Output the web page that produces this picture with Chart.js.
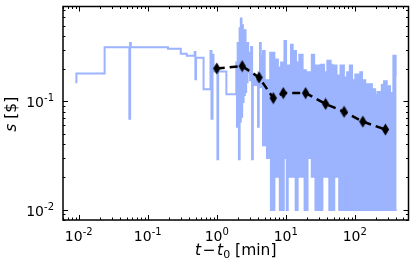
<!DOCTYPE html>
<html>
<head>
<meta charset="utf-8">
<script src="https://cdn.jsdelivr.net/npm/chart.js@4.4.1/dist/chart.umd.min.js"></script>
<style>
  html, body { margin: 0; padding: 0; background: #fff; }
</style>
</head>
<body>
<canvas id="chart" width="415" height="277"></canvas>
<script>
// raw spread, sparse part (minutes, $), drawn as steps
const traceT = [0.00893, 0.00924, 0.0237, 0.0541, 0.0555, 0.0568, 0.196, 0.301, 0.367, 0.479,
  0.490, 0.501, 0.644, 0.812, 0.839, 0.868, 0.897, 1.023, 1.047, 1.378,
  1.918, 1.962, 2.008, 2.048, 2.096, 2.145, 2.188, 2.232, 2.284, 2.337,
  2.392, 2.448, 2.497, 2.556, 2.615, 2.668, 2.731, 2.795, 2.851, 2.946,
  3.045, 3.147, 3.253, 3.329, 3.474, 3.712, 3.966, 4.058, 4.236, 4.335, 4.436, 4.526]
const traceS = [0.150, 0.181, 0.315, 0.0690, 0.346, 0.315, 0.306, 0.275, 0.264, 0.286,
  0.160, 0.253, 0.129, 0.292, 0.069, 0.269, 0.188, 0.0292, 0.188, 0.116,
  0.228, 0.0583, 0.346, 0.080, 0.0292, 0.473, 0.0649, 0.583, 0.072, 0.505,
  0.0986, 0.385, 0.114, 0.454, 0.122, 0.312, 0.150, 0.346, 0.185, 0.281,
  0.156, 0.318, 0.0292, 0.177, 0.141, 0.156, 0.0583, 0.185, 0.346, 0.135, 0.264, 0.264]

// raw spread, dense part: upper and lower edge of the band
const bandT = [4.526, 4.677, 4.949, 5.339, 5.703, 5.953, 6.093, 6.839, 7.187, 7.678,
  8.202, 8.562, 9.361, 9.579, 10.10, 10.33, 10.68, 11.91, 12.60, 13.92,
  14.05, 14.87, 15.73, 17.54, 18.74, 19.56, 20.69, 23.84, 25.81, 26.94,
  32.10, 33.95, 35.92, 40.05, 42.80, 44.67, 47.25, 50.47, 54.45, 59.54,
  62.15, 69.55, 70.24, 72.59, 77.53, 84.79, 91.48, 102.0, 114.1, 120.3,
  127.3, 141.9, 177.1, 197.5, 213.8, 246.5, 265.9, 290.7, 324.2, 362.7, 391.4, 404.5]
const bandHi = [0.264, 0.292, 0.156, 0.156, 0.156, 0.281, 0.281, 0.243, 0.243, 0.205,
  0.205, 0.228, 0.228, 0.360, 0.214, 0.214, 0.214, 0.332, 0.292, 0.292,
  0.228, 0.228, 0.269, 0.193, 0.193, 0.185, 0.185, 0.269, 0.214, 0.214,
  0.218, 0.218, 0.185, 0.237, 0.237, 0.218, 0.214, 0.214, 0.173, 0.173,
  0.214, 0.166, 0.166, 0.166, 0.185, 0.214, 0.156, 0.177, 0.150, 0.185,
  0.156, 0.144, 0.129, 0.114, 0.122, 0.141, 0.153, 0.138, 0.119, 0.264, 0.177, 0.177]
const bandLo = [0.0393, 0.0393, 0.0393, 0.0299, 0.0393, 0.0393, 0.0099, 0.0201, 0.0201, 0.0299,
  0.0099, 0.0099, 0.0299, 0.0299, 0.0299, 0.0099, 0.0201, 0.0299, 0.0201, 0.0099,
  0.0099, 0.0201, 0.0201, 0.0201, 0.0099, 0.0099, 0.0299, 0.0201, 0.0201, 0.0099,
  0.0099, 0.0201, 0.0201, 0.0201, 0.0099, 0.0099, 0.0099, 0.0201, 0.0201, 0.0099,
  0.0099, 0.0099, 0.0201, 0.0099, 0.0099, 0.0099, 0.0099, 0.0099, 0.0099, 0.0099,
  0.0099, 0.0099, 0.0099, 0.0099, 0.0099, 0.0099, 0.0099, 0.0099, 0.0099, 0.0099, 0.0099, 0.0099]

// binned means
const binT = [1.0, 2.34, 4.1, 6.6, 9.2, 19.4, 37.8, 70, 131, 278]
const binS = [0.201, 0.211, 0.166, 0.107, 0.119, 0.119, 0.0945, 0.080, 0.0649, 0.0548]

const xDecades = [-2, -1, 0, 1, 2]
const yDecades = [-2, -1]

const blue = 'rgb(156,179,253)'
const pts = (xs, ys) => xs.map((v, i) => ({ x: v, y: ys[i] }))

// thin diamond marker
const diamond = document.createElement('canvas')
diamond.width = 9
diamond.height = 13
{
  const g = diamond.getContext('2d')
  g.fillStyle = '#000'
  g.beginPath()
  g.moveTo(4.5, 0.5); g.lineTo(8.2, 6.5); g.lineTo(4.5, 12.5); g.lineTo(0.8, 6.5)
  g.closePath()
  g.fill()
}

const frame = {
  id: 'frame',
  afterDraw(chart) {
    const { ctx, chartArea: a, scales: { x, y } } = chart
    ctx.save()
    ctx.strokeStyle = '#000'
    ctx.lineWidth = 1
    for (let k = -3; k <= 3; k++) {
      for (let m = 1; m <= 9; m++) {
        const v = m * Math.pow(10, k)
        const len = m === 1 ? 5 : 2.5
        if (v >= x.min && v <= x.max) {
          const p = Math.round(x.getPixelForValue(v)) + 0.5
          ctx.beginPath()
          ctx.moveTo(p, a.bottom); ctx.lineTo(p, a.bottom - len)
          ctx.moveTo(p, a.top); ctx.lineTo(p, a.top + len)
          ctx.stroke()
        }
        if (v >= y.min && v <= y.max) {
          const p = Math.round(y.getPixelForValue(v)) + 0.5
          ctx.beginPath()
          ctx.moveTo(a.left, p); ctx.lineTo(a.left + len, p)
          ctx.moveTo(a.right, p); ctx.lineTo(a.right - len, p)
          ctx.stroke()
        }
      }
    }
    ctx.lineWidth = 1.5
    ctx.strokeRect(a.left, a.top, a.right - a.left, a.bottom - a.top)

    // tick labels 10^k
    ctx.fillStyle = '#000'
    ctx.textBaseline = 'alphabetic'
    ctx.textAlign = 'left'
    const base = '14px "DejaVu Sans"', sup = '10px "DejaVu Sans"'
    const expText = k => (k < 0 ? '-' + (-k) : String(k))
    const powW = k => {
      ctx.font = base
      const w1 = ctx.measureText('10').width
      ctx.font = sup
      return w1 + ctx.measureText(expText(k)).width
    }
    const powDraw = (k, left, baseY) => {
      ctx.font = base
      const w1 = ctx.measureText('10').width
      ctx.fillText('10', left, baseY)
      ctx.font = sup
      ctx.fillText(expText(k), left + w1, baseY - 6)
    }
    xDecades.forEach(k => {
      const p = x.getPixelForValue(Math.pow(10, k))
      powDraw(k, p - powW(k) / 2, 241)
    })
    yDecades.forEach(k => {
      const p = y.getPixelForValue(Math.pow(10, k))
      powDraw(k, 54 - powW(k), p + 6)
    })

    // axis titles
    const it = 'italic 15.5px "DejaVu Sans"', rm = '15.5px "DejaVu Sans"', sm = '11px "DejaVu Sans"'
    const drawParts = (parts, cx, baseY) => {
      let w = 0
      parts.forEach(p => { ctx.font = p[1]; w += ctx.measureText(p[0]).width + (p[3] || 0) })
      let cur = cx - w / 2
      parts.forEach(p => {
        ctx.font = p[1]
        ctx.fillText(p[0], cur, baseY + (p[2] || 0))
        cur += ctx.measureText(p[0]).width + (p[3] || 0)
      })
    }
    drawParts([['t', it, 0, 1.5], ['\u2212', rm, 0, 1.5], ['t', it], ['0', sm, 3], [' [min]', rm]],
      (a.left + a.right) / 2, 255)
    ctx.save()
    ctx.translate(15.5, (a.top + a.bottom) / 2 + 1)
    ctx.rotate(-Math.PI / 2)
    drawParts([['s', it], [' [$]', rm]], 0, 0)
    ctx.restore()
    ctx.restore()
  }
}

new Chart(document.getElementById('chart'), {
  type: 'scatter',
  data: {
    datasets: [
      {
        data: pts(binT, binS),
        showLine: true,
        borderColor: '#000',
        borderWidth: 2.5,
        borderDash: [8, 5],
        pointStyle: diamond,
        order: 0,
      },
      {
        data: pts(traceT, traceS),
        showLine: true,
        stepped: true,
        borderColor: blue,
        borderWidth: 2,
        pointRadius: 0,
        order: 1,
      },
      {
        data: pts(bandT, bandHi),
        showLine: true,
        stepped: true,
        borderColor: blue,
        backgroundColor: blue,
        borderWidth: 2,
        pointRadius: 0,
        fill: '+1',
        order: 2,
      },
      {
        data: pts(bandT, bandLo),
        showLine: true,
        stepped: true,
        borderColor: blue,
        borderWidth: 2,
        pointRadius: 0,
        order: 3,
      },
    ]
  },
  options: {
    responsive: false,
    animation: false,
    devicePixelRatio: 1,
    layout: { padding: { left: 63, top: 3, right: 3, bottom: 57 } },
    plugins: { legend: { display: false }, tooltip: { enabled: false } },
    scales: {
      x: { type: 'logarithmic', min: 0.00591, max: 601, display: false },
      y: { type: 'logarithmic', min: 0.008, max: 0.751, display: false },
    }
  },
  plugins: [frame]
})
</script>
</body>
</html>
